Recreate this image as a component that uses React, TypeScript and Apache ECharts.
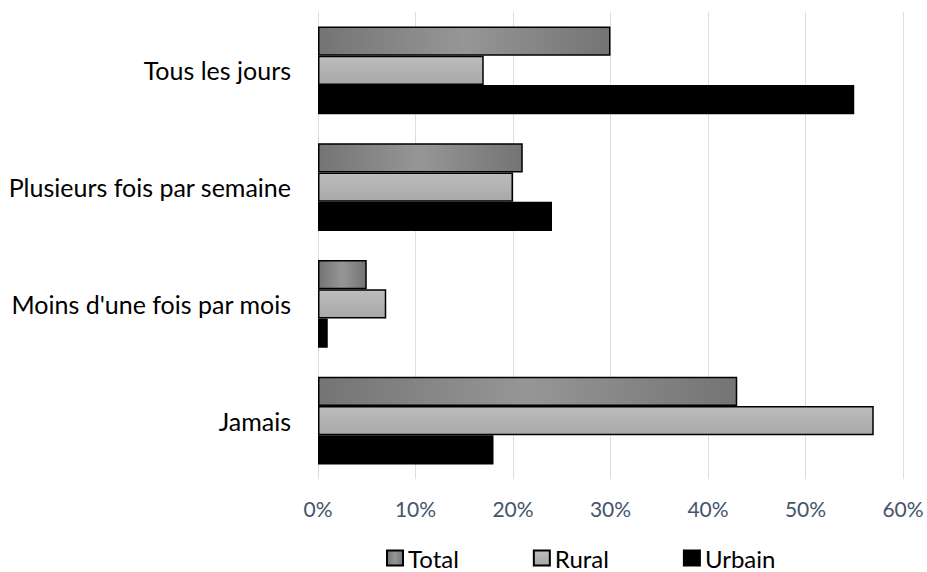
import React, { useEffect, useRef } from "react";
import * as echarts from "echarts";

const categories = ["Tous les jours", "Plusieurs fois par semaine", "Moins d'une fois par mois", "Jamais"];
const totalValues = [30, 21, 5, 43];
const ruralValues = [17, 20, 7, 57];
const urbainValues = [55, 24, 1, 18];
const xTicks = { min: 0, max: 60, interval: 10 };

export default function App() {
  const ref = useRef<HTMLDivElement>(null);
  useEffect(() => {
    if (!ref.current) return;
    const chart = echarts.init(ref.current, null, { renderer: "svg" });
    const totalGrad = new echarts.graphic.LinearGradient(0, 0, 1, 0, [
      { offset: 0, color: "#747474" },
      { offset: 0.5, color: "#969696" },
      { offset: 1, color: "#747474" },
    ]);
    const ruralGrad = new echarts.graphic.LinearGradient(0, 0, 0, 1, [
      { offset: 0, color: "#bdbdbd" },
      { offset: 1, color: "#a8a8a8" },
    ]);
    chart.setOption({
      animation: false,
      textStyle: { fontFamily: "Lato" },
      grid: { left: 318, right: 24, top: 12, bottom: 93, containLabel: false },
      legend: {
        left: 386,
        top: 546,
        padding: 0,
        itemWidth: 16,
        itemHeight: 15,
        itemGap: 74,
        itemTextGap: 6,
        icon: "rect",
        textStyle: { fontSize: 24, color: "#000", fontFamily: "Lato", lineHeight: 24 },
        data: ["Total", "Rural", "Urbain"],
      },
      xAxis: {
        type: "value",
        min: xTicks.min,
        max: xTicks.max,
        interval: xTicks.interval,
        axisLine: { show: false },
        axisTick: { show: false },
        splitLine: { lineStyle: { color: "#d9dfe7", width: 1 } },
        axisLabel: { formatter: "{value}%", color: "#44546a", fontSize: 21, margin: 19, fontFamily: "Lato" },
      },
      yAxis: {
        type: "category",
        inverse: true,
        data: categories,
        axisLine: { show: false },
        axisTick: { show: false },
        axisLabel: { color: "#000", fontSize: 25, margin: 27, fontFamily: "Lato" },
      },
      series: [
        {
          name: "Total",
          type: "bar",
          data: totalValues,
          barGap: "0%",
          barCategoryGap: "25%",
          itemStyle: { color: totalGrad, borderColor: "#000", borderWidth: 1.5 },
        },
        {
          name: "Rural",
          type: "bar",
          data: ruralValues,
          barGap: "0%",
          barCategoryGap: "25%",
          itemStyle: { color: ruralGrad, borderColor: "#000", borderWidth: 1.5 },
        },
        {
          name: "Urbain",
          type: "bar",
          data: urbainValues,
          barGap: "0%",
          barCategoryGap: "25%",
          itemStyle: { color: "#000", borderColor: "#000", borderWidth: 1.5 },
        },
      ],
    });
    return () => chart.dispose();
  }, []);
  return (
    <div
      ref={ref}
      style={{ position: "fixed", left: 0, top: 0, width: 927, height: 572, background: "#fff" }}
    />
  );
}
